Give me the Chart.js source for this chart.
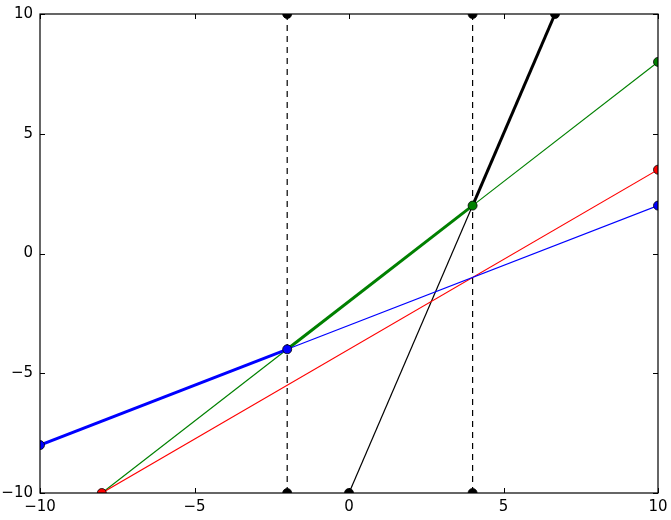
<!DOCTYPE html>
<html>
<head>
<meta charset="utf-8">
<script src="https://cdn.jsdelivr.net/npm/chart.js@4/dist/chart.umd.min.js"></script>
<style>
  html, body { margin: 0; padding: 0; background: #ffffff; }
  #wrap { width: 671px; height: 520px; position: relative; }
</style>
</head>
<body>
<div id="wrap"><canvas id="c" width="671" height="520"></canvas></div>
<script>
// ---- data ----
const xTicks = [-10, -5, 0, 5, 10];
const yTicks = [-10, -5, 0, 5, 10];

const blueX = [-10, -2, 10];
const blueY = [-8, -4, 2];
const blueMarkers = [1, 1, 1];
const blueThickSeg = [0];

const redX = [-8, 10];
const redY = [-10, 3.5];
const redMarkers = [1, 1];
const redThickSeg = [];

const greenX = [-8, -2, 4, 10];
const greenY = [-10, -4, 2, 8];
const greenMarkers = [0, 0, 1, 1];
const greenThickSeg = [1];

const blackX = [0, 4, 6.667];
const blackY = [-10, 2, 10];
const blackMarkers = [1, 0, 1];
const blackThickSeg = [1];

const guideXs = [-2, 4];
const guideY = [-10, 10];

// ---- helpers ----
function pts(xs, ys) { return xs.map((x, i) => ({ x: x, y: ys[i] })); }

function series(xs, ys, color, markers, thickSegs, order) {
  return {
    data: pts(xs, ys),
    showLine: true,
    borderColor: color,
    backgroundColor: color,
    borderWidth: 1.2,
    pointRadius: markers.map(m => m ? 4.5 : 0),
    pointBackgroundColor: color,
    pointBorderColor: '#000000',
    pointBorderWidth: 0.8,
    clip: 0,
    order: order,
    segment: {
      borderWidth: ctx => thickSegs.includes(ctx.p0DataIndex) ? 3 : 1.2
    }
  };
}

const datasets = [
  series(blueX, blueY, '#0000ff', blueMarkers, blueThickSeg, 1),
  series(redX, redY, '#ff0000', redMarkers, redThickSeg, 2),
  series(greenX, greenY, '#008000', greenMarkers, greenThickSeg, 3),
  series(blackX, blackY, '#000000', blackMarkers, blackThickSeg, 4)
];
guideXs.forEach((gx, i) => {
  datasets.push({
    data: pts([gx, gx], guideY),
    showLine: true,
    borderColor: '#000000',
    backgroundColor: '#000000',
    borderWidth: 1.2,
    borderDash: [6, 5],
    pointRadius: 4.5,
    pointBackgroundColor: '#000000',
    pointBorderColor: '#000000',
    pointBorderWidth: 0.8,
    clip: 0,
    order: 5 + i
  });
});

const minus = v => String(v).replace('-', '\u2212');

const framePlugin = {
  id: 'frame',
  afterDatasetsDraw(chart) {
    const ctx = chart.ctx;
    const a = chart.chartArea;
    const xs = chart.scales.x, ys = chart.scales.y;
    ctx.save();
    ctx.strokeStyle = '#000000';
    ctx.lineWidth = 1;
    ctx.beginPath();
    xTicks.forEach(v => {
      const px = Math.round(xs.getPixelForValue(v)) + 0.5;
      ctx.moveTo(px, a.bottom); ctx.lineTo(px, a.bottom - 5);
      ctx.moveTo(px, a.top); ctx.lineTo(px, a.top + 5);
    });
    yTicks.forEach(v => {
      const py = Math.round(ys.getPixelForValue(v)) + 0.5;
      ctx.moveTo(a.left, py); ctx.lineTo(a.left + 5, py);
      ctx.moveTo(a.right, py); ctx.lineTo(a.right - 5, py);
    });
    ctx.stroke();
    ctx.lineWidth = 1.2;
    ctx.strokeRect(a.left, a.top, a.right - a.left, a.bottom - a.top);
    ctx.restore();
  }
};

new Chart(document.getElementById('c'), {
  type: 'scatter',
  data: { datasets: datasets },
  plugins: [framePlugin],
  options: {
    responsive: false,
    animation: false,
    events: [],
    layout: { padding: { left: 0, right: 13, top: 14, bottom: 0 } },
    plugins: { legend: { display: false }, tooltip: { enabled: false } },
    scales: {
      x: {
        type: 'linear', min: -10, max: 10,
        grid: { display: false, drawTicks: false },
        border: { display: false },
        afterFit: s => { s.height = 27; s.paddingLeft = 0; s.paddingRight = 0; },
        afterBuildTicks: s => { s.ticks = xTicks.map(v => ({ value: v })); },
        ticks: {
          padding: 5,
          color: '#000000',
          font: { family: 'DejaVu Sans', size: 15 },
          maxRotation: 0,
          callback: v => minus(v)
        }
      },
      y: {
        type: 'linear', min: -10, max: 10,
        grid: { display: false, drawTicks: false },
        border: { display: false },
        afterFit: s => { s.width = 40; s.paddingTop = 0; s.paddingBottom = 0; },
        afterBuildTicks: s => { s.ticks = yTicks.map(v => ({ value: v })); },
        ticks: {
          padding: 7,
          color: '#000000',
          font: { family: 'DejaVu Sans', size: 15 },
          callback: v => minus(v)
        }
      }
    }
  }
});
</script>
</body>
</html>
